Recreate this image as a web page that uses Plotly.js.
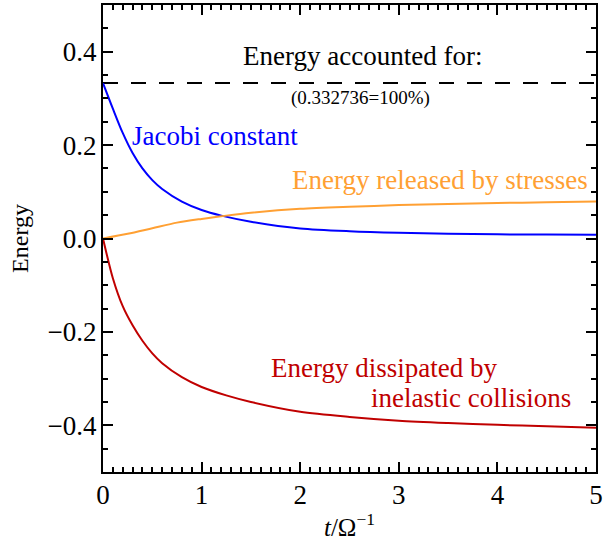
<!DOCTYPE html>
<html>
<head>
<meta charset="utf-8">
<script src="https://cdn.plot.ly/plotly-3.0.1.min.js"></script>
<style>
html,body{margin:0;padding:0;background:#fff;}
#chart{width:603px;height:541px;}
</style>
</head>
<body>
<div id="chart"></div>
<script>
// Data
const tJacobi = [0, 0.1, 0.2, 0.3, 0.4, 0.5, 0.6, 0.8, 1.0, 1.2, 1.5, 2.0, 2.5, 3.0, 3.5, 4.0, 4.5, 5.0];
const eJacobi = [0.3327, 0.278, 0.226, 0.183, 0.150, 0.125, 0.106, 0.079, 0.061, 0.049, 0.036, 0.0215, 0.0155, 0.0122, 0.0103, 0.009, 0.0083, 0.0078];

const tStress = [0, 0.25, 0.5, 0.75, 1.0, 1.25, 1.5, 2.0, 2.5, 3.0, 3.5, 4.0, 4.5, 5.0];
const eStress = [0, 0.010, 0.022, 0.034, 0.042, 0.049, 0.055, 0.0635, 0.068, 0.0715, 0.074, 0.076, 0.0775, 0.079];

const tDiss = [0, 0.1, 0.2, 0.3, 0.4, 0.5, 0.6, 0.8, 1.0, 1.25, 1.5, 2.0, 2.5, 3.0, 3.5, 4.0, 4.5, 5.0];
const eDiss = [0, -0.085, -0.145, -0.186, -0.219, -0.246, -0.267, -0.297, -0.318, -0.336, -0.350, -0.371, -0.382, -0.390, -0.395, -0.399, -0.402, -0.405];

const totalX = [0, 5];
const totalEnergy = 0.332736;

const xTicks = [0, 1, 2, 3, 4, 5];
const yTicks = [-0.4, -0.2, 0.0, 0.2, 0.4];
const yTickText = ['\u22120.4', '\u22120.2', '0.0', '0.2', '0.4'];

const serif = 'Liberation Serif, Times New Roman, serif';

const traces = [
  {x: totalX, y: totalX.map(() => totalEnergy), mode: 'lines',
   line: {color: '#000', width: 2, dash: '15px,13px'}, hoverinfo: 'skip'},
  {x: tJacobi, y: eJacobi, mode: 'lines', line: {color: '#0000ff', width: 2, shape: 'spline', smoothing: 0.8}},
  {x: tStress, y: eStress, mode: 'lines', line: {color: '#ffa033', width: 2, shape: 'spline', smoothing: 0.8}},
  {x: tDiss, y: eDiss, mode: 'lines', line: {color: '#c00000', width: 2, shape: 'spline', smoothing: 0.8}}
];

function axisCommon() {
  return {
    showline: true, linewidth: 2, linecolor: '#000', mirror: 'allticks',
    ticks: 'inside', ticklen: 10, tickwidth: 2, tickcolor: '#000',
    showgrid: false, zeroline: false,
    tickfont: {family: serif, size: 27, color: '#000'}
  };
}

const layout = {
  width: 603, height: 541,
  font: {family: serif, size: 22, color: '#000'},
  margin: {l: 103, r: 7, t: 5, b: 69},
  paper_bgcolor: '#fff', plot_bgcolor: '#fff',
  showlegend: false,
  xaxis: Object.assign(axisCommon(), {
    range: [0, 5], tickvals: xTicks, ticktext: xTicks.map(String),
    ticklabelstandoff: -2,
    minor: {ticks: 'inside', ticklen: 5, tickwidth: 2, tickcolor: '#000', dtick: 0.1, showgrid: false},
    title: {text: '<i>t</i>/\u03A9<sup>\u22121</sup>', font: {family: serif, size: 25, color: '#000'}, standoff: 10}
  }),
  yaxis: Object.assign(axisCommon(), {
    range: [-0.5, 0.5], tickvals: yTicks, ticktext: yTickText,
    ticklabelstandoff: -1,
    minor: {ticks: 'inside', ticklen: 5, tickwidth: 2, tickcolor: '#000', dtick: 0.05, showgrid: false},
    title: {text: 'Energy', font: {family: serif, size: 24, color: '#000'}, standoff: 12}
  }),
  annotations: [
    {x: 2.63, y: 0.39, xref: 'x', yref: 'y', text: 'Energy accounted for:', showarrow: false,
     font: {family: serif, size: 27, color: '#000'}},
    {x: 2.61, y: 0.30, xref: 'x', yref: 'y', text: '(0.332736=100%)', showarrow: false,
     font: {family: serif, size: 19, color: '#000'}},
    {x: 0.27, y: 0.22, xref: 'x', yref: 'y', text: 'Jacobi constant', showarrow: false, xanchor: 'left',
     font: {family: serif, size: 27, color: '#0000ff'}},
    {x: 4.94, y: 0.125, xref: 'x', yref: 'y', text: 'Energy released by stresses', showarrow: false, xanchor: 'right',
     font: {family: serif, size: 27, color: '#ffa033'}},
    {x: 1.68, y: -0.278, xref: 'x', yref: 'y', text: 'Energy dissipated by', showarrow: false, xanchor: 'left',
     font: {family: serif, size: 27, color: '#c00000'}},
    {x: 4.77, y: -0.341, xref: 'x', yref: 'y', text: 'inelastic collisions', showarrow: false, xanchor: 'right',
     font: {family: serif, size: 27, color: '#c00000'}}
  ]
};

Plotly.newPlot('chart', traces, layout, {staticPlot: true, displayModeBar: false});
</script>
</body>
</html>
